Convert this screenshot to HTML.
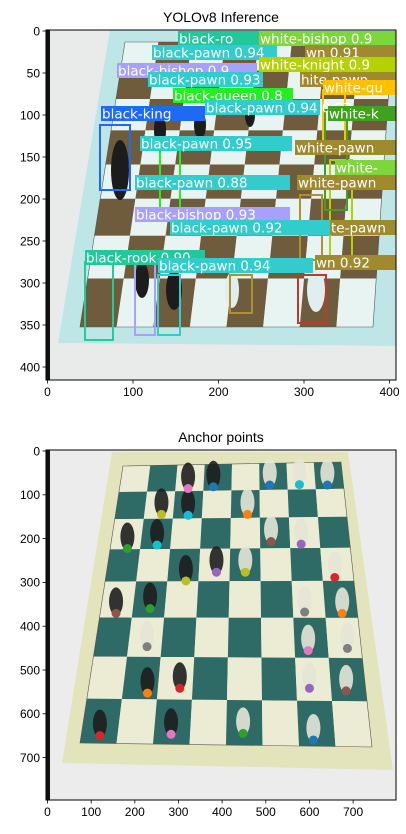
<!DOCTYPE html>
<html><head><meta charset="utf-8">
<style>
html,body{margin:0;padding:0;background:#fff;}
svg{display:block;font-family:"Liberation Sans","DejaVu Sans",sans-serif;}
</style></head>
<body>
<svg id="fig" width="406" height="834" viewBox="0 0 406 834" xmlns="http://www.w3.org/2000/svg">
<defs>
<clipPath id="c1"><rect x="46" y="30" width="350" height="350"/></clipPath>
<clipPath id="c2"><rect x="46" y="450" width="350" height="350"/></clipPath>
</defs>
<g id="top"></g>
<g id="bot"></g>
</svg>
<script>
// ---- data: anchor points (image pixel coordinates, 800x800 image) ----
const anchorX = [322,380,509,577,641, 261,322,458, 183,251,512,581, 387,453,317,658, 157,235,589,675, 228,597,687, 229,303,600,684, 120,283,448,609];
const anchorY = [88,84,80,79,80, 147,149,147, 225,217,209,215, 279,279,299,291, 373,362,370,373, 449,458,453, 555,544,544,550, 652,649,647,662];
const anchorColors = ['#e377c2','#1f77b4','#1f77b4','#17becf','#1f77b4','#bcbd22','#17becf','#ff7f0e','#2ca02c','#17becf','#8c564b','#9467bd','#9467bd','#bcbd22','#bcbd22','#d62728','#8c564b','#2ca02c','#7f7f7f','#ff7f0e','#7f7f7f','#e377c2','#7f7f7f','#ff7f0e','#d62728','#9467bd','#8c564b','#d62728','#e377c2','#2ca02c','#1f77b4'];
const topTicksX = [0,100,200,300,400];
const topTicksY = [0,50,100,150,200,250,300,350,400];
const botTicksX = [0,100,200,300,400,500,600,700];
const botTicksY = [0,100,200,300,400,500,600,700];
// detection labels (top image)
const detLabels = ['black-ro','white-bishop 0.9','black-pawn 0.94','wn 0.91','white-knight 0.9','black-bishop 0.9','black-pawn 0.93','hite-pawn','white-qu','black-queen 0.8','black-king','black-pawn 0.94 0.92','white-k','black-pawn 0.95','white-pawn','white-','black-pawn 0.88','white-pawn','black-bishop 0.93','black-pawn 0.92','te-pawn','black-rook 0.90','black-pawn 0.94','wn 0.92'];

const NS='http://www.w3.org/2000/svg';
const svg=document.getElementById('fig');
function mk(tag,attrs,parent){const e=document.createElementNS(NS,tag);for(const k in attrs)e.setAttribute(k,attrs[k]);(parent||svg).appendChild(e);return e;}
function lerp(a,b,t){return [a[0]+(b[0]-a[0])*t,a[1]+(b[1]-a[1])*t];}
function bil(c,u,v){const t=lerp(c[0],c[1],u),b=lerp(c[3],c[2],u);return lerp(t,b,v);}
function board(g,clip,outer,grid,bg,boardCol,dark,light,rowsV){
  const cg=mk('g',{'clip-path':clip},g);
  const bgr=mk('rect',{x:40,y:0,width:370,height:834,fill:bg},cg);
  
  
  const ob=mk('polygon',{points:outer.map(p=>p.join(',')).join(' '),fill:boardCol},cg);
  
  
  for(let r=0;r<8;r++)for(let c=0;c<8;c++){
    const u0=c/8,u1=(c+1)/8,v0=rowsV[r],v1=rowsV[r+1];
    const pts=[bil(grid,u0,v0),bil(grid,u1,v0),bil(grid,u1,v1),bil(grid,u0,v1)];
    const sq=mk('polygon',{points:pts.map(p=>p.join(',')).join(' '),fill:(r+c)%2?dark:light},cg);
    
    
  }
  mk('polygon',{points:grid.map(p=>p.join(',')).join(' '),fill:'none',stroke:'#555','stroke-width':0.6},cg);
  mk('rect',{x:46,y:clip==='url(#c1)'?30:450,width:4,height:350,fill:'#111'},cg);
  return cg;
}
function axes(g,x0,y0,size,ticksX,ticksY,sx,sy,title){
  const fr=mk('rect',{x:x0,y:y0,width:size,height:size,fill:'none',stroke:'#000','stroke-width':1},g);
  
  
  ticksX.forEach(t=>{const x=x0+1.5+t*sx;mk('line',{x1:x,x2:x,y1:y0+size,y2:y0+size+3.5,stroke:'#000','stroke-width':0.8},g);
    const tx=mk('text',{x:x,y:y0+size+16,'font-size':12,'text-anchor':'middle',fill:'#000'},g);tx.textContent=t;
    
    });
  ticksY.forEach(t=>{const y=y0+1+t*sy;mk('line',{x1:x0,x2:x0-3.5,y1:y,y2:y,stroke:'#000','stroke-width':0.8},g);
    const tx=mk('text',{x:x0-6,y:y+4.3,'font-size':12,'text-anchor':'end',fill:'#000'},g);tx.textContent=t;
    
    });
  const tt=mk('text',{x:x0+size/2,y:y0-8,'font-size':14,'text-anchor':'middle',fill:'#000'},g);tt.textContent=title;
  
  
}
// ---- top panel ----
const gt=document.getElementById('top');
const cg1=board(gt,'url(#c1)',[[110,30],[396,30],[396,346],[58,343]],[[125,42],[392,42],[373,327],[80,327]],'#e9eaea','#bfe6e6','#6e5c3c','#e8f4f2',[0,0.1,0.2,0.31,0.43,0.55,0.68,0.83,1]);
// pieces (dark blobs)
[[120,170,9,30],[142,280,7,18],[174,290,8,20],[232,290,7,18],[316,290,9,22],[160,130,6,18],[200,125,6,14],[250,115,5,12]].forEach((p,i)=>{
  const e=mk('ellipse',{cx:p[0],cy:p[1],rx:p[2],ry:p[3],fill:i>2&&i<5?'#dfeeee':'#1c1c1c'},cg1);
  
  
});
// detection boxes
const boxes=[[100,125,30,65,'#1e6af5'],[85,262,28,78,'#22cc99'],[135,255,20,80,'#a8a0ff'],[160,145,20,65,'#22ee22'],[158,275,22,60,'#33cccc'],[230,275,22,38,'#b09030'],[298,275,28,48,'#c0392b'],[300,195,22,65,'#b09030'],[330,160,22,100,'#b4d200'],[325,110,22,100,'#40a020'],[323,90,22,60,'#ffc000']];
boxes.forEach(b=>{const r=mk('rect',{x:b[0],y:b[1],width:b[2],height:b[3],fill:'none',stroke:b[4],'stroke-width':2},cg1);
  
  });
const labPos=[[178,31,82,'#22c89a'],[259,31,140,'#7dd63a'],[152,45,125,'#33cccc'],[305,45,92,'#a08a30'],[259,57,140,'#b4d200'],[117,63,140,'#a8a0ff'],[148,72,115,'#33cccc'],[300,72,97,'#a08a30'],[323,80,74,'#ffc000'],[173,88,120,'#22ee22'],[101,106,104,'#1e6af5'],[205,100,115,'#33cccc'],[328,106,70,'#40a020'],[140,136,152,'#33cccc'],[295,140,102,'#a08a30'],[335,160,62,'#7dd63a'],[135,175,155,'#33cccc'],[297,175,100,'#a08a30'],[135,207,155,'#a8a0ff'],[170,220,160,'#33cccc'],[330,220,68,'#a08a30'],[85,250,120,'#22c89a'],[158,258,155,'#33cccc'],[315,255,82,'#a08a30']];
labPos.forEach((p,i)=>{
  const r=mk('rect',{x:p[0],y:p[1],width:p[2],height:15,fill:p[3]},cg1);
  
  
  const t=mk('text',{x:p[0]+1,y:p[1]+12.5,'font-size':13.5,fill:'#fff','font-family':'DejaVu Sans, sans-serif'},cg1);
  t.textContent=detLabels[i];
  
  
});
axes(gt,46,30,350,topTicksX,topTicksY,342/400,336/400,'YOLOv8 Inference');

// ---- bottom panel ----
const gb=document.getElementById('bot');
const cg2=board(gb,'url(#c2)',[[112,452],[348,452],[393,770],[62,763]],[[123,466],[341,462],[372,747],[80,743]],'#ececec','#e4e4bc','#2e6a66','#ececd4',[0,0.094,0.192,0.301,0.417,0.547,0.688,0.84,1]);
const sx=0.4366, sy=0.438;
function X(v){return 47.5+v*sx;} function Y(v){return 450+v*sy;}
anchorX.forEach((v,i)=>{
  const dk=i<20&&[0,1,5,6,8,9,12,14,16,17].includes(i)||[23,24,27,28].includes(i);
  const pc=mk('ellipse',{cx:X(v),cy:Y(anchorY[i])-12,rx:7,ry:14,fill:dk?'#1e1e1e':'#e6e6d6',opacity:0.9},cg2);
  
  
});
anchorX.forEach((v,i)=>{
  const c=mk('circle',{cx:X(v),cy:Y(anchorY[i]),r:4.5,fill:anchorColors[i]},cg2);
  
  
});
axes(gb,46,450,350,botTicksX,botTicksY,sx,sy,'Anchor points');
</script>
</body></html>
